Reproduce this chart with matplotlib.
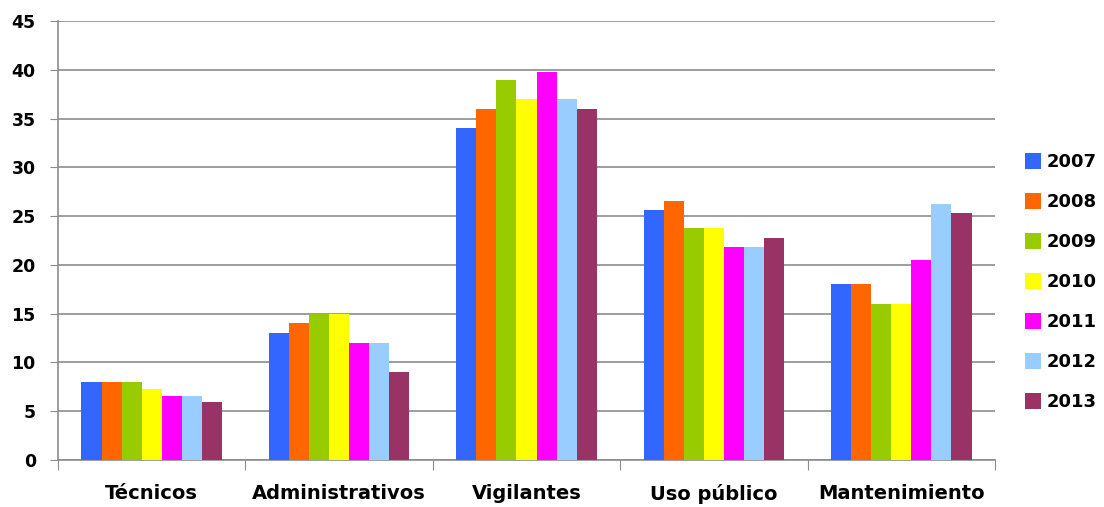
import matplotlib.pyplot as plt
import numpy as np

categorias = ['Técnicos', 'Administrativos', 'Vigilantes', 'Uso público', 'Mantenimiento']
anos = ['2007', '2008', '2009', '2010', '2011', '2012', '2013']
valores = {
    '2007': [8, 13, 34, 25.6, 18],
    '2008': [8, 14, 36, 26.6, 18],
    '2009': [8, 15, 39, 23.8, 16],
    '2010': [7.3, 15, 37, 23.8, 16],
    '2011': [6.6, 12, 39.8, 21.8, 20.5],
    '2012': [6.6, 12, 37, 21.8, 26.2],
    '2013': [5.9, 9, 36, 22.8, 25.3],
}
cores = ['#3366FF', '#FF6600', '#99CC00', '#FFFF00', '#FF00FF', '#99CCFF', '#993366']

plt.rcParams['font.family'] = ['DejaVu Sans']
fig = plt.figure(figsize=(11.04, 5.07), dpi=100)
ax = fig.add_axes([58 / 1104, 1 - 460 / 507, 937 / 1104, 439 / 507])

x = np.arange(len(categorias))
largura = 0.75 / len(anos)
for i, ano in enumerate(anos):
    ax.bar(x - 0.375 + largura * (i + 0.5), valores[ano], largura,
           color=cores[i], label=ano, zorder=3)

ax.set_xlim(-0.5, len(categorias) - 0.5)
ax.set_ylim(0, 45)
ax.set_yticks(range(0, 46, 5))
ax.set_yticklabels([str(v) for v in range(0, 46, 5)], fontsize=12.5, fontweight='bold')
ax.yaxis.grid(True, color='#8c8c8c', linewidth=1.2, zorder=0)

ax.set_xticks(np.arange(-0.5, len(categorias)), minor=False)
ax.set_xticklabels([])
ax.set_xticks(x, minor=True)
ax.set_xticklabels(categorias, minor=True, fontsize=14, fontweight='bold')
ax.tick_params(axis='x', which='major', length=7, color='#8c8c8c', direction='out')
ax.tick_params(axis='x', which='minor', length=0, pad=17)
ax.tick_params(axis='y', length=6, color='#8c8c8c', pad=10)

for s in ['top', 'right']:
    ax.spines[s].set_visible(False)
ax.spines['left'].set_color('#8c8c8c')
ax.spines['bottom'].set_color('#8c8c8c')
ax.spines['left'].set_linewidth(1.2)
ax.spines['bottom'].set_linewidth(1.2)

leg = ax.legend(loc='center left', bbox_to_anchor=(1.0325, 0.405), frameon=False,
                prop={'size': 13, 'weight': 'bold'}, handlelength=0.85,
                handleheight=0.95, handletextpad=0.35, labelspacing=1.22,
                borderaxespad=0, borderpad=0)

plt.savefig('out.png', dpi=100)
